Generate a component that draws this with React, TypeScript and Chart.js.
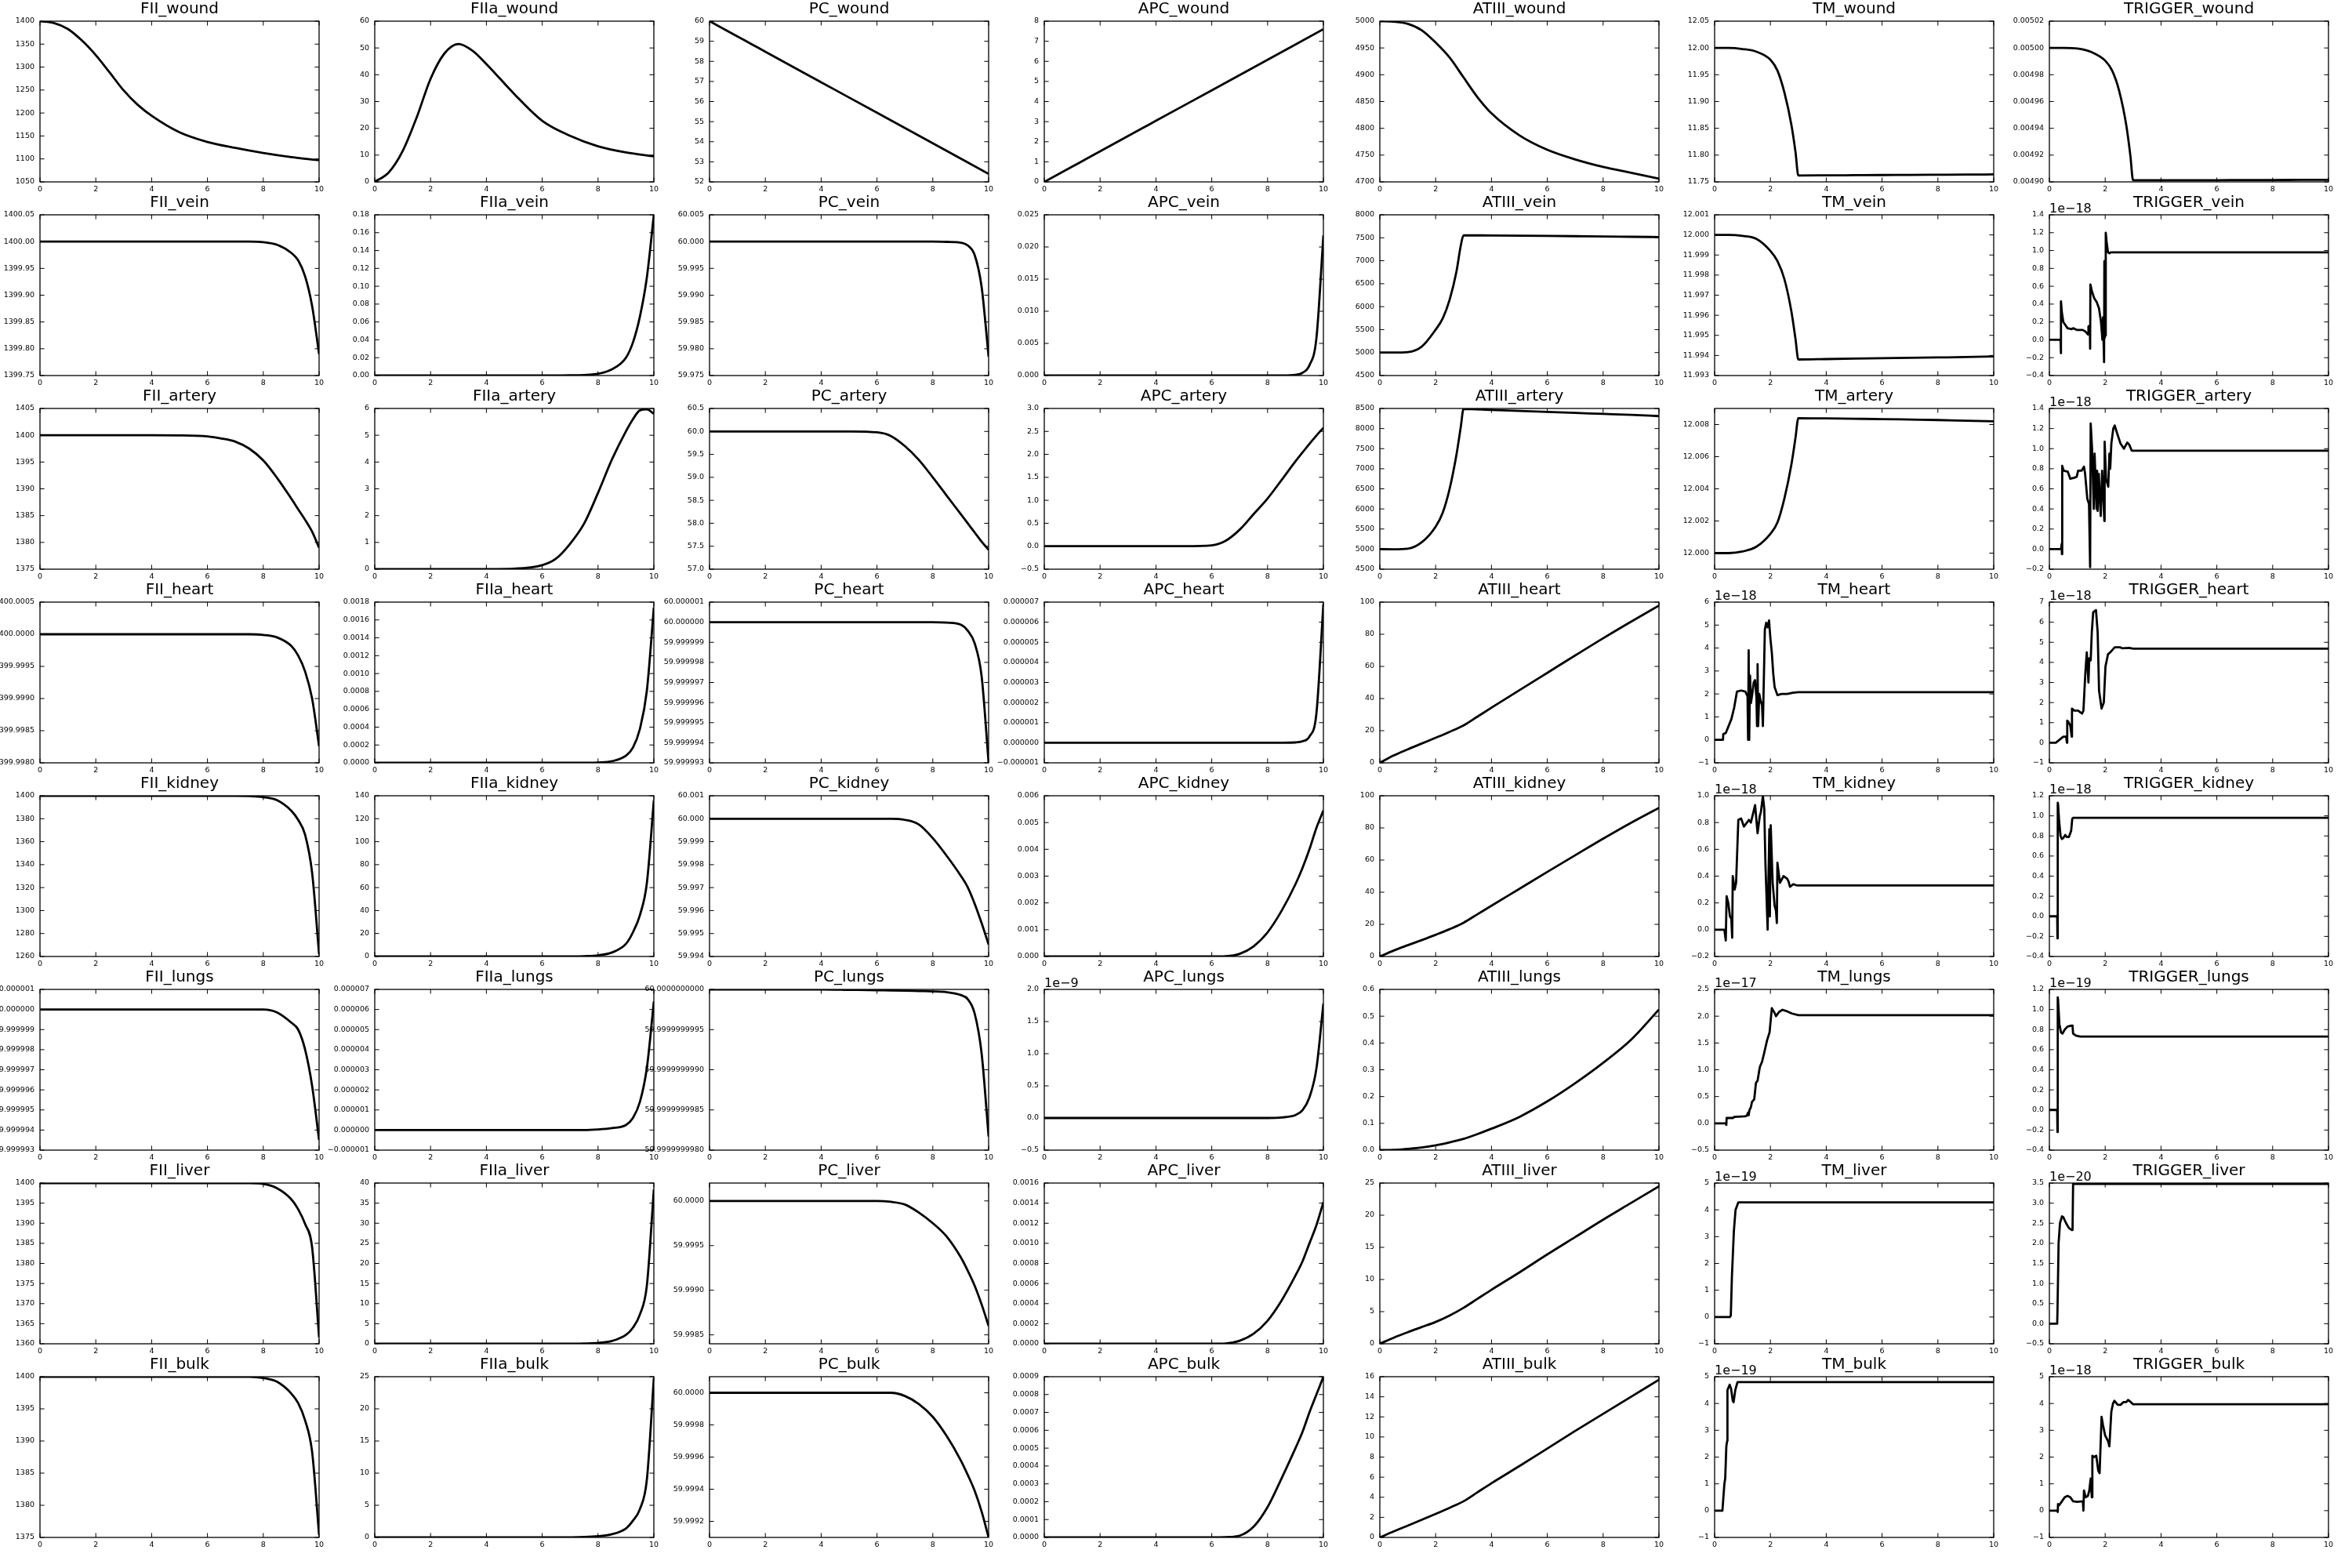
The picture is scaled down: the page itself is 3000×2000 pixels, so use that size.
import React, { useEffect, useRef } from "react";
import { Chart, registerables } from "chart.js";

Chart.register(...registerables);
Chart.defaults.font.family = "'DejaVu Sans', sans-serif";

// ---------- shared time grids ----------
const T_EARLY = [0, 0.5, 1, 1.5, 2, 2.5, 3, 3.5, 4, 5, 6, 7, 8, 9, 10];
const T_LATE = [0, 2, 4, 5, 6, 6.5, 7, 7.5, 8, 8.5, 9, 9.25, 9.5, 9.75, 10];
const T_KINK = [0, 0.5, 1, 1.5, 2, 2.25, 2.5, 2.75, 2.9, 3, 4, 5, 6, 7, 8, 9, 10];
const X_TICKS = ["0", "2", "4", "6", "8", "10"];

// ---------- wound ----------
const FII_wound = [1400, 1396, 1383, 1358, 1326, 1288, 1249, 1218, 1194, 1158, 1137, 1124, 1113, 1104, 1097];
const FIIa_wound = [0, 3.5, 11.5, 24, 38.5, 48, 51.5, 49, 44, 32.8, 22.8, 17.2, 13.3, 11, 9.5];
const PC_wound = [60, 59.62, 59.24, 58.86, 58.48, 58.1, 57.72, 57.34, 56.96, 56.2, 55.44, 54.68, 53.92, 53.16, 52.4];
const APC_wound = [0, 0.38, 0.76, 1.14, 1.52, 1.9, 2.28, 2.66, 3.04, 3.8, 4.56, 5.32, 6.08, 6.84, 7.6];
const ATIII_wound = [5000, 4999, 4995, 4983, 4960, 4932, 4895, 4858, 4828, 4787, 4760, 4742, 4728, 4717, 4706];
const TM_wound = [12.0, 12.0, 11.998, 11.993, 11.978, 11.958, 11.917, 11.857, 11.805, 11.762, 11.7622, 11.7625, 11.7628, 11.763, 11.7633, 11.7636, 11.764];
const TRIGGER_wound = [0.005, 0.005, 0.0049996, 0.004997, 0.0049905, 0.004983, 0.004968, 0.004943, 0.00492, 0.0049012, 0.0049012, 0.0049013, 0.0049013, 0.0049014, 0.0049014, 0.0049015, 0.0049015];

// ---------- vein ----------
const FII_vein = [1400, 1400, 1400, 1400, 1400, 1400, 1400, 1400, 1399.999, 1399.994, 1399.979, 1399.965, 1399.935, 1399.88, 1399.79];
const FIIa_vein = [0, 0, 0, 0, 0, 0, 0.0002, 0.0006, 0.002, 0.007, 0.02, 0.037, 0.066, 0.11, 0.18];
const PC_vein = [60, 60, 60, 60, 60, 60, 60, 60, 60, 59.99995, 59.9998, 59.9993, 59.9975, 59.9915, 59.9785];
const APC_vein = [0, 0, 0, 0, 0, 0, 0, 0, 0, 0.00001, 0.00011, 0.00043, 0.0016, 0.0058, 0.0218];
const ATIII_vein = [5000, 5000, 5010, 5130, 5500, 5740, 6150, 6780, 7330, 7555, 7550, 7545, 7540, 7535, 7530, 7522, 7515];
const TM_vein = [12.0, 12.0, 11.99995, 11.9998, 11.9992, 11.9987, 11.9978, 11.9962, 11.9948, 11.9938, 11.99382, 11.99384, 11.99386, 11.99388, 11.9939, 11.99392, 11.99395];
const TRIGGER_vein_t = [0, 0.4, 0.41, 0.42, 0.45, 0.5, 0.65, 0.8, 0.85, 1.0, 1.2, 1.3, 1.38, 1.4, 1.45, 1.46, 1.47, 1.52, 1.6, 1.7, 1.78, 1.85, 1.9, 1.92, 1.96, 1.97, 1.98, 2.0, 2.02, 2.05, 2.1, 2.15, 2.2, 10];
const TRIGGER_vein = [0, 0, -0.15, 0.43, 0.3, 0.2, 0.13, 0.12, 0.13, 0.11, 0.11, 0.09, 0.06, 0.15, 0.16, -0.1, 0.62, 0.55, 0.47, 0.42, 0.35, 0.2, 0.0, 0.25, -0.25, 0.88, 0.02, 0.05, 1.2, 1.1, 0.98, 0.97, 0.98, 0.98];

// ---------- artery ----------
const FII_artery = [1400, 1400, 1400, 1399.98, 1399.8, 1399.4, 1398.8, 1397.5, 1395.3, 1392.0, 1388.2, 1386.2, 1384.2, 1382.0, 1379.0];
const FIIa_artery = [0, 0, 0.005, 0.02, 0.15, 0.4, 0.95, 1.7, 2.85, 4.1, 5.15, 5.6, 5.93, 5.97, 5.8];
const PC_artery = [60, 60, 60, 59.999, 59.98, 59.9, 59.68, 59.38, 59.0, 58.6, 58.2, 58.0, 57.8, 57.6, 57.42];
const APC_artery = [0, 0, 0, 0.001, 0.02, 0.12, 0.36, 0.7, 1.04, 1.44, 1.85, 2.04, 2.23, 2.41, 2.58];
const ATIII_artery = [5000, 4995, 5010, 5170, 5560, 5900, 6500, 7370, 8040, 8490, 8465, 8440, 8415, 8390, 8365, 8340, 8310];
const TM_artery = [12.0, 12.0, 12.0001, 12.0004, 12.0012, 12.0019, 12.0034, 12.0055, 12.0072, 12.0084, 12.00838, 12.00836, 12.00834, 12.00831, 12.00828, 12.00824, 12.0082];
const TRIGGER_artery_t = [0, 0.42, 0.44, 0.45, 0.46, 0.51, 0.66, 0.75, 0.89, 0.98, 1.03, 1.15, 1.24, 1.28, 1.36, 1.42, 1.46, 1.48, 1.53, 1.59, 1.62, 1.69, 1.71, 1.73, 1.77, 1.84, 1.89, 1.97, 1.98, 2.03, 2.11, 2.15, 2.18, 2.22, 2.29, 2.34, 2.43, 2.55, 2.67, 2.79, 2.86, 2.95, 10];
const TRIGGER_artery = [0, 0, 0.05, -0.05, 0.83, 0.78, 0.77, 0.7, 0.71, 0.72, 0.78, 0.78, 0.82, 0.75, 0.5, 0.45, -0.18, 1.25, 1.0, 0.4, 0.95, 0.4, 0.78, 0.38, 0.75, 0.33, 0.78, 0.28, 1.07, 0.7, 0.62, 0.95, 0.8, 1.05, 1.2, 1.23, 1.15, 1.05, 1.0, 1.06, 1.04, 0.98, 0.98];

// ---------- heart ----------
const FII_heart = [1400, 1400, 1400, 1400, 1400, 1400, 1400, 1400, 1399.99999, 1399.99995, 1399.99982, 1399.99967, 1399.99942, 1399.999, 1399.99826];
const FIIa_heart = [0, 0, 0, 0, 0, 0, 0, 0.000001, 0.000004, 0.000018, 0.00008, 0.00017, 0.00038, 0.00081, 0.00174];
const PC_heart = [60, 60, 60, 60, 60, 60, 60, 60, 60, 59.99999998, 59.99999988, 59.99999958, 59.99999895, 59.9999973, 59.999993];
const APC_heart = [0, 0, 0, 0, 0, 0, 0, 0, 0, 0.000000002, 0.000000014, 0.00000007, 0.00000031, 0.00000146, 0.0000069];
const ATIII_heart = [0, 4.6, 8.4, 12, 15.6, 19.3, 23.3, 28.8, 34.3, 45.2, 56, 66.8, 77.5, 87.8, 97.8];
const TM_heart_t = [0, 0.3, 0.31, 0.4, 0.5, 0.6, 0.7, 0.8, 0.95, 1.1, 1.18, 1.2, 1.22, 1.24, 1.27, 1.3, 1.35, 1.4, 1.45, 1.5, 1.52, 1.54, 1.56, 1.6, 1.65, 1.7, 1.73, 1.8, 1.85, 1.9, 1.95, 2.0, 2.05, 2.1, 2.15, 2.25, 2.4, 2.6, 2.8, 3.0, 10];
const TM_heart = [0, 0, 0.25, 0.3, 0.6, 0.9, 1.4, 2.1, 2.15, 2.1, 1.9, 0.0, 3.9, 0, 2.8, 1.6, 2.0, 2.5, 2.6, 1.8, 0.6, 3.3, 0.6, 2.0, 1.7, 1.5, 0.6, 4.8, 5.1, 4.9, 5.2, 4.4, 3.8, 2.9, 2.3, 1.95, 2.0, 2.0, 2.05, 2.08, 2.08];
const TRIGGER_heart_t = [0, 0.23, 0.5, 0.6, 0.63, 0.64, 0.7, 0.75, 0.8, 0.81, 0.89, 1.03, 1.12, 1.17, 1.22, 1.29, 1.34, 1.4, 1.43, 1.48, 1.52, 1.57, 1.67, 1.73, 1.78, 1.87, 1.95, 2.01, 2.1, 2.18, 2.34, 2.53, 2.62, 2.86, 3.0, 10];
const TRIGGER_heart = [0, 0, 0.3, 0.3, 0.0, 1.1, 1.0, 0.85, 0.3, 1.7, 1.6, 1.6, 1.5, 1.45, 1.6, 3.5, 4.5, 3.0, 4.2, 4.1, 5.5, 6.5, 6.6, 5.5, 2.6, 1.7, 2.0, 3.8, 4.4, 4.5, 4.75, 4.75, 4.7, 4.72, 4.68, 4.68];

// ---------- kidney ----------
const FII_kidney = [1400, 1400, 1400, 1400, 1400, 1400, 1400, 1399.7, 1398.8, 1396, 1387, 1379, 1366, 1333, 1262];
const FIIa_kidney = [0, 0, 0, 0, 0, 0, 0.05, 0.3, 1, 3.5, 11, 21, 36, 64, 136];
const PC_kidney = [60, 60, 60, 60, 60, 60, 59.99995, 59.99975, 59.99915, 59.99838, 59.99752, 59.99702, 59.9963, 59.99545, 59.99452];
const APC_kidney = [0, 0, 0, 0, 0, 0.00001, 0.0001, 0.00038, 0.0009, 0.0017, 0.0027, 0.0033, 0.004, 0.0048, 0.00545];
const ATIII_kidney = [0, 3.7, 7.0, 10.2, 13.5, 17, 21, 26.3, 31.6, 42.1, 52.6, 63, 73.3, 83.2, 92.5];
const TM_kidney_t = [0, 0.35, 0.4, 0.43, 0.49, 0.55, 0.6, 0.63, 0.65, 0.72, 0.77, 0.85, 0.95, 1.05, 1.23, 1.3, 1.45, 1.54, 1.62, 1.66, 1.73, 1.78, 1.82, 1.9, 1.96, 1.98, 2.01, 2.08, 2.15, 2.2, 2.23, 2.25, 2.34, 2.47, 2.6, 2.65, 2.7, 2.82, 2.96, 10];
const TM_kidney = [0, 0, -0.08, 0.25, 0.2, 0.1, 0.08, -0.06, 0.4, 0.3, 0.35, 0.82, 0.83, 0.77, 0.82, 0.8, 0.93, 0.72, 0.85, 0.88, 1.0, 0.9, 0.5, 0.0, 0.75, 0.1, 0.78, 0.35, 0.18, 0.14, 0.05, 0.5, 0.35, 0.4, 0.38, 0.36, 0.32, 0.34, 0.33, 0.33];
const TRIGGER_kidney_t = [0, 0.28, 0.29, 0.3, 0.31, 0.35, 0.4, 0.45, 0.5, 0.57, 0.62, 0.7, 0.78, 0.82, 0.85, 10];
const TRIGGER_kidney = [0, 0, -0.22, 1.13, 1.12, 0.95, 0.8, 0.77, 0.78, 0.81, 0.79, 0.79, 0.85, 0.97, 0.98, 0.98];

// ---------- lungs ----------
const FII_lungs = [1400, 1400, 1400, 1400, 1400, 1400, 1400, 1400, 1400, 1399.99999985, 1399.99999935, 1399.999999, 1399.999998, 1399.9999962, 1399.9999935];
const FIIa_lungs = [0, 0, 0, 0, 0, 0, 0, 0, 0.00000003, 0.0000001, 0.00000025, 0.0000006, 0.0000014, 0.0000031, 0.0000064];
const PC_lungs = [60, 60, 60, 59.999999999995, 59.99999999999, 59.999999999988, 59.999999999985, 59.99999999998, 59.999999999975, 59.999999999965, 59.99999999993, 59.99999999988, 59.9999999997, 59.9999999992, 59.99999999817];
const APC_lungs = [0, 0, 0, 0, 0, 0, 0, 0, 0, 0.008, 0.045, 0.12, 0.32, 0.77, 1.78];
const ATIII_lungs = [0, 0.001, 0.005, 0.01, 0.018, 0.029, 0.042, 0.06, 0.08, 0.124, 0.182, 0.25, 0.326, 0.412, 0.525];
const TM_lungs_t = [0, 0.4, 0.42, 0.43, 0.66, 0.7, 1.08, 1.15, 1.2, 1.22, 1.25, 1.3, 1.34, 1.42, 1.48, 1.54, 1.62, 1.7, 1.77, 1.88, 1.97, 2.05, 2.16, 2.2, 2.31, 2.43, 2.55, 2.77, 3.0, 10];
const TM_lungs = [0, 0, -0.03, 0.1, 0.1, 0.12, 0.13, 0.14, 0.2, 0.15, 0.25, 0.3, 0.4, 0.45, 0.75, 0.8, 1.05, 1.15, 1.3, 1.55, 1.7, 2.15, 2.05, 2.0, 2.08, 2.12, 2.1, 2.05, 2.02, 2.02];
const TRIGGER_lungs_t = [0, 0.28, 0.29, 0.3, 0.31, 0.36, 0.42, 0.47, 0.55, 0.65, 0.8, 0.83, 0.85, 0.95, 1.1, 10];
const TRIGGER_lungs = [0, 0, -0.22, 1.12, 1.1, 0.85, 0.77, 0.76, 0.8, 0.83, 0.84, 0.84, 0.76, 0.74, 0.73, 0.73];

// ---------- liver ----------
const FII_liver = [1400, 1400, 1400, 1400, 1400, 1400, 1400, 1400, 1399.8, 1398.7, 1396, 1393.5, 1389.8, 1384, 1361.6];
const FIIa_liver = [0, 0, 0, 0, 0, 0, 0.02, 0.07, 0.2, 0.7, 2.2, 4, 7.3, 14.5, 38.4];
const PC_liver = [60, 60, 60, 60, 60, 59.99999, 59.99996, 59.99987, 59.99975, 59.9996, 59.99937, 59.99922, 59.99905, 59.99884, 59.9986];
const APC_liver = [0, 0, 0, 0, 0, 0.000003, 0.00003, 0.0001, 0.00023, 0.00043, 0.00068, 0.00082, 0.001, 0.00118, 0.00141];
const ATIII_liver = [0, 0.95, 1.8, 2.6, 3.4, 4.4, 5.6, 7.0, 8.4, 11.1, 13.9, 16.6, 19.3, 21.9, 24.5];
const TM_liver_t = [0, 0.55, 0.58, 0.62, 0.69, 0.75, 0.85, 10];
const TM_liver = [0, 0, 0.05, 1.5, 3.2, 4.0, 4.28, 4.28];
const TRIGGER_liver_t = [0, 0.28, 0.29, 0.33, 0.38, 0.45, 0.5, 0.6, 0.7, 0.8, 0.83, 0.85, 10];
const TRIGGER_liver = [0, 0, 0.3, 2.0, 2.5, 2.67, 2.65, 2.5, 2.38, 2.33, 2.33, 3.48, 3.48];

// ---------- bulk ----------
const FII_bulk = [1400, 1400, 1400, 1400, 1400, 1400, 1400, 1400, 1399.8, 1399.2, 1397.4, 1395.9, 1393.2, 1388.3, 1375.4];
const FIIa_bulk = [0, 0, 0, 0, 0, 0, 0.02, 0.07, 0.2, 0.5, 1.4, 2.6, 4.4, 9, 24.8];
const PC_bulk = [60, 60, 60, 60, 60, 60, 59.99998, 59.99993, 59.99985, 59.99973, 59.99958, 59.99949, 59.99939, 59.99926, 59.9991];
const APC_bulk = [0, 0, 0, 0, 0, 0.000002, 0.00001, 0.00006, 0.00017, 0.00033, 0.0005, 0.00059, 0.0007, 0.0008, 0.0009];
const ATIII_bulk = [0, 0.6, 1.17, 1.75, 2.34, 2.95, 3.6, 4.5, 5.4, 7.1, 8.85, 10.6, 12.3, 14.0, 15.7];
const TM_bulk_t = [0, 0.28, 0.35, 0.38, 0.42, 0.45, 0.46, 0.54, 0.59, 0.65, 0.68, 0.74, 0.82, 10];
const TM_bulk = [0, 0, 1.0, 1.2, 2.4, 2.6, 4.5, 4.7, 4.55, 4.1, 4.05, 4.5, 4.8, 4.8];
const TRIGGER_bulk_t = [0, 0.28, 0.3, 0.31, 0.35, 0.45, 0.55, 0.65, 0.75, 0.85, 1.0, 1.2, 1.22, 1.24, 1.3, 1.38, 1.43, 1.48, 1.52, 1.54, 1.6, 1.68, 1.75, 1.8, 1.87, 1.92, 2.0, 2.1, 2.15, 2.22, 2.28, 2.33, 2.45, 2.55, 2.65, 2.75, 2.82, 2.92, 3.0, 10];
const TRIGGER_bulk = [0, 0, -0.05, 0.25, 0.2, 0.35, 0.5, 0.55, 0.5, 0.35, 0.33, 0.35, 0.0, 0.75, 0.5, 0.55, 0.75, 1.2, 0.5, 2.05, 2.0, 2.05, 1.5, 1.4, 3.5, 3.2, 2.8, 2.6, 2.4, 3.7, 4.0, 4.1, 3.95, 3.95, 4.05, 4.05, 4.13, 4.05, 3.97, 3.97];

// ---------- y tick labels ----------
const Y_FII_wound = ["1050", "1100", "1150", "1200", "1250", "1300", "1350", "1400"];
const Y_FIIa_wound = ["0", "10", "20", "30", "40", "50", "60"];
const Y_PC_wound = ["52", "53", "54", "55", "56", "57", "58", "59", "60"];
const Y_APC_wound = ["0", "1", "2", "3", "4", "5", "6", "7", "8"];
const Y_ATIII_wound = ["4700", "4750", "4800", "4850", "4900", "4950", "5000"];
const Y_TM_wound = ["11.75", "11.80", "11.85", "11.90", "11.95", "12.00", "12.05"];
const Y_TRIGGER_wound = ["0.00490", "0.00492", "0.00494", "0.00496", "0.00498", "0.00500", "0.00502"];

const Y_FII_vein = ["1399.75", "1399.80", "1399.85", "1399.90", "1399.95", "1400.00", "1400.05"];
const Y_FIIa_vein = ["0.00", "0.02", "0.04", "0.06", "0.08", "0.10", "0.12", "0.14", "0.16", "0.18"];
const Y_PC_vein = ["59.975", "59.980", "59.985", "59.990", "59.995", "60.000", "60.005"];
const Y_APC_vein = ["0.000", "0.005", "0.010", "0.015", "0.020", "0.025"];
const Y_ATIII_vein = ["4500", "5000", "5500", "6000", "6500", "7000", "7500", "8000"];
const Y_TM_vein = ["11.993", "11.994", "11.995", "11.996", "11.997", "11.998", "11.999", "12.000", "12.001"];
const Y_TRIGGER_vein = ["−0.4", "−0.2", "0.0", "0.2", "0.4", "0.6", "0.8", "1.0", "1.2", "1.4"];

const Y_FII_artery = ["1375", "1380", "1385", "1390", "1395", "1400", "1405"];
const Y_FIIa_artery = ["0", "1", "2", "3", "4", "5", "6"];
const Y_PC_artery = ["57.0", "57.5", "58.0", "58.5", "59.0", "59.5", "60.0", "60.5"];
const Y_APC_artery = ["−0.5", "0.0", "0.5", "1.0", "1.5", "2.0", "2.5", "3.0"];
const Y_ATIII_artery = ["4500", "5000", "5500", "6000", "6500", "7000", "7500", "8000", "8500"];
const Y_TM_artery = ["12.000", "12.002", "12.004", "12.006", "12.008"];
const Y_TRIGGER_artery = ["−0.2", "0.0", "0.2", "0.4", "0.6", "0.8", "1.0", "1.2", "1.4"];

const Y_FII_heart = ["1399.9980", "1399.9985", "1399.9990", "1399.9995", "1400.0000", "1400.0005"];
const Y_FIIa_heart = ["0.0000", "0.0002", "0.0004", "0.0006", "0.0008", "0.0010", "0.0012", "0.0014", "0.0016", "0.0018"];
const Y_PC_heart = ["59.999993", "59.999994", "59.999995", "59.999996", "59.999997", "59.999998", "59.999999", "60.000000", "60.000001"];
const Y_APC_heart = ["−0.000001", "0.000000", "0.000001", "0.000002", "0.000003", "0.000004", "0.000005", "0.000006", "0.000007"];
const Y_ATIII_heart = ["0", "20", "40", "60", "80", "100"];
const Y_TM_heart = ["−1", "0", "1", "2", "3", "4", "5", "6"];
const Y_TRIGGER_heart = ["−1", "0", "1", "2", "3", "4", "5", "6", "7"];

const Y_FII_kidney = ["1260", "1280", "1300", "1320", "1340", "1360", "1380", "1400"];
const Y_FIIa_kidney = ["0", "20", "40", "60", "80", "100", "120", "140"];
const Y_PC_kidney = ["59.994", "59.995", "59.996", "59.997", "59.998", "59.999", "60.000", "60.001"];
const Y_APC_kidney = ["0.000", "0.001", "0.002", "0.003", "0.004", "0.005", "0.006"];
const Y_ATIII_kidney = ["0", "20", "40", "60", "80", "100"];
const Y_TM_kidney = ["−0.2", "0.0", "0.2", "0.4", "0.6", "0.8", "1.0"];
const Y_TRIGGER_kidney = ["−0.4", "−0.2", "0.0", "0.2", "0.4", "0.6", "0.8", "1.0", "1.2"];

const Y_FII_lungs = ["1399.999993", "1399.999994", "1399.999995", "1399.999996", "1399.999997", "1399.999998", "1399.999999", "1400.000000", "1400.000001"];
const Y_FIIa_lungs = ["−0.000001", "0.000000", "0.000001", "0.000002", "0.000003", "0.000004", "0.000005", "0.000006", "0.000007"];
const Y_PC_lungs = ["59.9999999980", "59.9999999985", "59.9999999990", "59.9999999995", "60.0000000000"];
const Y_APC_lungs = ["−0.5", "0.0", "0.5", "1.0", "1.5", "2.0"];
const Y_ATIII_lungs = ["0.0", "0.1", "0.2", "0.3", "0.4", "0.5", "0.6"];
const Y_TM_lungs = ["−0.5", "0.0", "0.5", "1.0", "1.5", "2.0", "2.5"];
const Y_TRIGGER_lungs = ["−0.4", "−0.2", "0.0", "0.2", "0.4", "0.6", "0.8", "1.0", "1.2"];

const Y_FII_liver = ["1360", "1365", "1370", "1375", "1380", "1385", "1390", "1395", "1400"];
const Y_FIIa_liver = ["0", "5", "10", "15", "20", "25", "30", "35", "40"];
const Y_PC_liver = ["59.9985", "59.9990", "59.9995", "60.0000"];
const Y_APC_liver = ["0.0000", "0.0002", "0.0004", "0.0006", "0.0008", "0.0010", "0.0012", "0.0014", "0.0016"];
const Y_ATIII_liver = ["0", "5", "10", "15", "20", "25"];
const Y_TM_liver = ["−1", "0", "1", "2", "3", "4", "5"];
const Y_TRIGGER_liver = ["−0.5", "0.0", "0.5", "1.0", "1.5", "2.0", "2.5", "3.0", "3.5"];

const Y_FII_bulk = ["1375", "1380", "1385", "1390", "1395", "1400"];
const Y_FIIa_bulk = ["0", "5", "10", "15", "20", "25"];
const Y_PC_bulk = ["59.9992", "59.9994", "59.9996", "59.9998", "60.0000"];
const Y_APC_bulk = ["0.0000", "0.0001", "0.0002", "0.0003", "0.0004", "0.0005", "0.0006", "0.0007", "0.0008", "0.0009"];
const Y_ATIII_bulk = ["0", "2", "4", "6", "8", "10", "12", "14", "16"];
const Y_TM_bulk = ["−1", "0", "1", "2", "3", "4", "5"];
const Y_TRIGGER_bulk = ["−1", "0", "1", "2", "3", "4", "5"];

type PanelDef = {
  title: string;
  t: number[];
  y: number[];
  ticks: string[];
  min?: number;
  max?: number;
  offset?: string;
  smooth: boolean;
};

const P = (title: string, t: number[], y: number[], ticks: string[], smooth: boolean, extra: Partial<PanelDef> = {}): PanelDef => ({
  title, t, y, ticks, smooth, ...extra,
});

const PANELS: PanelDef[][] = [
  [
    P("FII_wound", T_EARLY, FII_wound, Y_FII_wound, true),
    P("FIIa_wound", T_EARLY, FIIa_wound, Y_FIIa_wound, true),
    P("PC_wound", T_EARLY, PC_wound, Y_PC_wound, true),
    P("APC_wound", T_EARLY, APC_wound, Y_APC_wound, true),
    P("ATIII_wound", T_EARLY, ATIII_wound, Y_ATIII_wound, true),
    P("TM_wound", T_KINK, TM_wound, Y_TM_wound, true),
    P("TRIGGER_wound", T_KINK, TRIGGER_wound, Y_TRIGGER_wound, true),
  ],
  [
    P("FII_vein", T_LATE, FII_vein, Y_FII_vein, true),
    P("FIIa_vein", T_LATE, FIIa_vein, Y_FIIa_vein, true),
    P("PC_vein", T_LATE, PC_vein, Y_PC_vein, true),
    P("APC_vein", T_LATE, APC_vein, Y_APC_vein, true),
    P("ATIII_vein", T_KINK, ATIII_vein, Y_ATIII_vein, true),
    P("TM_vein", T_KINK, TM_vein, Y_TM_vein, true),
    P("TRIGGER_vein", TRIGGER_vein_t, TRIGGER_vein, Y_TRIGGER_vein, false, { offset: "1e−18" }),
  ],
  [
    P("FII_artery", T_LATE, FII_artery, Y_FII_artery, true),
    P("FIIa_artery", T_LATE, FIIa_artery, Y_FIIa_artery, true),
    P("PC_artery", T_LATE, PC_artery, Y_PC_artery, true),
    P("APC_artery", T_LATE, APC_artery, Y_APC_artery, true),
    P("ATIII_artery", T_KINK, ATIII_artery, Y_ATIII_artery, true),
    P("TM_artery", T_KINK, TM_artery, Y_TM_artery, true, { min: 11.999, max: 12.009 }),
    P("TRIGGER_artery", TRIGGER_artery_t, TRIGGER_artery, Y_TRIGGER_artery, false, { offset: "1e−18" }),
  ],
  [
    P("FII_heart", T_LATE, FII_heart, Y_FII_heart, true),
    P("FIIa_heart", T_LATE, FIIa_heart, Y_FIIa_heart, true),
    P("PC_heart", T_LATE, PC_heart, Y_PC_heart, true),
    P("APC_heart", T_LATE, APC_heart, Y_APC_heart, true),
    P("ATIII_heart", T_EARLY, ATIII_heart, Y_ATIII_heart, true),
    P("TM_heart", TM_heart_t, TM_heart, Y_TM_heart, false, { offset: "1e−18" }),
    P("TRIGGER_heart", TRIGGER_heart_t, TRIGGER_heart, Y_TRIGGER_heart, false, { offset: "1e−18" }),
  ],
  [
    P("FII_kidney", T_LATE, FII_kidney, Y_FII_kidney, true),
    P("FIIa_kidney", T_LATE, FIIa_kidney, Y_FIIa_kidney, true),
    P("PC_kidney", T_LATE, PC_kidney, Y_PC_kidney, true),
    P("APC_kidney", T_LATE, APC_kidney, Y_APC_kidney, true),
    P("ATIII_kidney", T_EARLY, ATIII_kidney, Y_ATIII_kidney, true),
    P("TM_kidney", TM_kidney_t, TM_kidney, Y_TM_kidney, false, { offset: "1e−18" }),
    P("TRIGGER_kidney", TRIGGER_kidney_t, TRIGGER_kidney, Y_TRIGGER_kidney, false, { offset: "1e−18" }),
  ],
  [
    P("FII_lungs", T_LATE, FII_lungs, Y_FII_lungs, true),
    P("FIIa_lungs", T_LATE, FIIa_lungs, Y_FIIa_lungs, true),
    P("PC_lungs", T_LATE, PC_lungs, Y_PC_lungs, true),
    P("APC_lungs", T_LATE, APC_lungs, Y_APC_lungs, true, { offset: "1e−9" }),
    P("ATIII_lungs", T_EARLY, ATIII_lungs, Y_ATIII_lungs, true),
    P("TM_lungs", TM_lungs_t, TM_lungs, Y_TM_lungs, false, { offset: "1e−17" }),
    P("TRIGGER_lungs", TRIGGER_lungs_t, TRIGGER_lungs, Y_TRIGGER_lungs, false, { offset: "1e−19" }),
  ],
  [
    P("FII_liver", T_LATE, FII_liver, Y_FII_liver, true),
    P("FIIa_liver", T_LATE, FIIa_liver, Y_FIIa_liver, true),
    P("PC_liver", T_LATE, PC_liver, Y_PC_liver, true, { min: 59.9984, max: 60.0002 }),
    P("APC_liver", T_LATE, APC_liver, Y_APC_liver, true),
    P("ATIII_liver", T_EARLY, ATIII_liver, Y_ATIII_liver, true),
    P("TM_liver", TM_liver_t, TM_liver, Y_TM_liver, false, { offset: "1e−19" }),
    P("TRIGGER_liver", TRIGGER_liver_t, TRIGGER_liver, Y_TRIGGER_liver, false, { offset: "1e−20" }),
  ],
  [
    P("FII_bulk", T_LATE, FII_bulk, Y_FII_bulk, true),
    P("FIIa_bulk", T_LATE, FIIa_bulk, Y_FIIa_bulk, true),
    P("PC_bulk", T_LATE, PC_bulk, Y_PC_bulk, true, { min: 59.9991, max: 60.0001 }),
    P("APC_bulk", T_LATE, APC_bulk, Y_APC_bulk, true),
    P("ATIII_bulk", T_EARLY, ATIII_bulk, Y_ATIII_bulk, true),
    P("TM_bulk", TM_bulk_t, TM_bulk, Y_TM_bulk, false, { offset: "1e−19" }),
    P("TRIGGER_bulk", TRIGGER_bulk_t, TRIGGER_bulk, Y_TRIGGER_bulk, false, { offset: "1e−18" }),
  ],
];

// ---------- layout ----------
const COL_LEFT = [51, 478, 905, 1332, 1760, 2187, 2614];
const ROW_TOP = [27, 274, 521, 768, 1015, 1262, 1509, 1756];
const PLOT_W = 356;
const PLOT_H = 205;
const Y_AXIS_W = 110;
const RIGHT_PAD = 14;
const TITLE_H = 27;
const X_AXIS_H = 20;
const CANVAS_W = Y_AXIS_W + PLOT_W + RIGHT_PAD;
const CANVAS_H = TITLE_H + PLOT_H + X_AXIS_H;

const TICK_FONT = { family: "'DejaVu Sans', sans-serif", size: 9.5 };
const num = (s: string) => parseFloat(s.replace("−", "-"));

const framePlugin = {
  id: "mplFrame",
  afterDatasetsDraw(chart: any, _args: any, opts: any) {
    const { ctx, chartArea: a, scales } = chart;
    const L = 5.6;
    ctx.save();
    ctx.strokeStyle = "#000";
    ctx.lineWidth = 1;
    ctx.beginPath();
    for (const t of scales.x.ticks) {
      const px = scales.x.getPixelForValue(t.value);
      ctx.moveTo(px, a.bottom);
      ctx.lineTo(px, a.bottom - L);
      ctx.moveTo(px, a.top);
      ctx.lineTo(px, a.top + L);
    }
    for (const t of scales.y.ticks) {
      const py = scales.y.getPixelForValue(t.value);
      ctx.moveTo(a.left, py);
      ctx.lineTo(a.left + L, py);
      ctx.moveTo(a.right, py);
      ctx.lineTo(a.right - L, py);
    }
    ctx.stroke();
    ctx.lineWidth = 1.3;
    ctx.strokeRect(a.left, a.top, a.right - a.left, a.bottom - a.top);
    if (opts && opts.offset) {
      ctx.fillStyle = "#000";
      ctx.font = "16px 'DejaVu Sans', sans-serif";
      ctx.textAlign = "left";
      ctx.textBaseline = "alphabetic";
      ctx.fillText(opts.offset, a.left, a.top - 3);
    }
    ctx.restore();
  },
};

function Panel({ p, left, top }: { p: PanelDef; left: number; top: number }) {
  const ref = useRef<HTMLCanvasElement>(null);
  useEffect(() => {
    const yVals = p.ticks.map(num);
    const n = Math.min(p.t.length, p.y.length);
    const pts = [] as { x: number; y: number }[];
    for (let i = 0; i < n; i++) pts.push({ x: p.t[i], y: p.y[i] });
    const chart = new Chart(ref.current as HTMLCanvasElement, {
      type: "line",
      data: {
        datasets: [
          {
            data: pts,
            borderColor: "#000",
            borderWidth: 2.8,
            pointRadius: 0,
            fill: false,
            tension: 0,
            cubicInterpolationMode: p.smooth ? "monotone" : "default",
            borderJoinStyle: "round",
            borderCapStyle: "butt",
            clip: 0,
          } as any,
        ],
      },
      options: {
        responsive: false,
        maintainAspectRatio: false,
        animation: false,
        devicePixelRatio: 1,
        events: [],
        layout: { padding: { left: 0, right: RIGHT_PAD, top: 0, bottom: 0 } },
        plugins: {
          legend: { display: false },
          tooltip: { enabled: false },
          title: {
            display: true,
            text: p.title,
            fullSize: false,
            color: "#000",
            font: { family: "'DejaVu Sans', sans-serif", size: 20, weight: "normal", lineHeight: 1.2 },
            padding: { top: 0, bottom: 3 },
          },
          mplFrame: { offset: p.offset },
        } as any,
        scales: {
          x: {
            type: "linear",
            min: 0,
            max: 10,
            grid: { display: false, drawTicks: false, tickLength: 0 },
            border: { display: false },
            ticks: {
              autoSkip: false,
              maxRotation: 0,
              padding: 4,
              color: "#000",
              font: TICK_FONT,
              callback: (_v: any, i: number) => X_TICKS[i],
            },
            afterBuildTicks: (s: any) => {
              s.ticks = X_TICKS.map((l) => ({ value: num(l) }));
            },
            afterFit: (s: any) => {
              s.height = X_AXIS_H;
            },
          },
          y: {
            type: "linear",
            min: p.min !== undefined ? p.min : yVals[0],
            max: p.max !== undefined ? p.max : yVals[yVals.length - 1],
            grid: { display: false, drawTicks: false, tickLength: 0 },
            border: { display: false },
            ticks: {
              autoSkip: false,
              padding: 7,
              color: "#000",
              font: TICK_FONT,
              callback: (_v: any, i: number) => p.ticks[i],
            },
            afterBuildTicks: (s: any) => {
              s.ticks = yVals.map((v) => ({ value: v }));
            },
            afterFit: (s: any) => {
              s.width = Y_AXIS_W;
            },
          },
        } as any,
      },
      plugins: [framePlugin as any],
    });
    return () => chart.destroy();
  }, [p]);
  return (
    <canvas
      ref={ref}
      width={CANVAS_W}
      height={CANVAS_H}
      style={{ position: "absolute", left, top, width: CANVAS_W, height: CANVAS_H }}
    />
  );
}

export default function App() {
  return (
    <div
      style={{
        position: "absolute",
        left: 0,
        top: 0,
        width: 3000,
        height: 2000,
        background: "#fff",
        overflow: "hidden",
      }}
    >
      {PANELS.map((row, r) =>
        row.map((p, c) => (
          <Panel key={p.title} p={p} left={COL_LEFT[c] - Y_AXIS_W} top={ROW_TOP[r] - TITLE_H} />
        ))
      )}
    </div>
  );
}
